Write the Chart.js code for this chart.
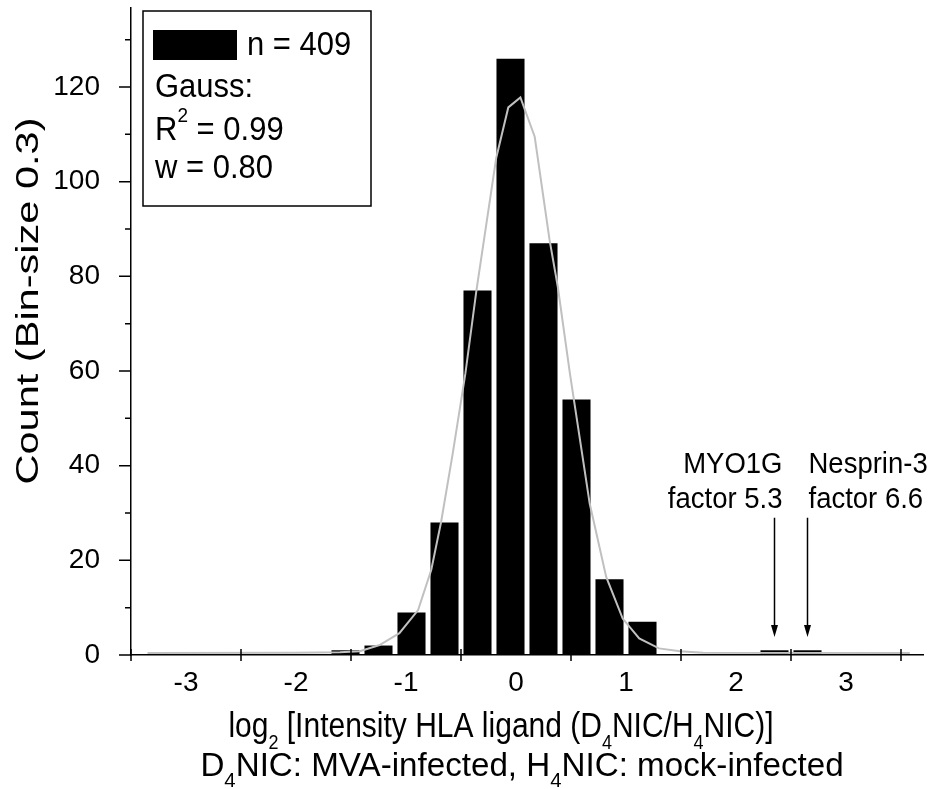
<!DOCTYPE html>
<html>
<head>
<meta charset="utf-8">
<script src="https://cdn.jsdelivr.net/npm/chart.js@4.4.1/dist/chart.umd.min.js"></script>
<style>
  html, body { margin: 0; padding: 0; background: #fff; }
</style>
</head>
<body>
<canvas id="histChart" width="936" height="789"></canvas>
<script>
// histogram bins (bin size 0.3), centre of each bin and its count
const binCenters = [-1.55, -1.25, -0.95, -0.65, -0.35, -0.05, 0.25, 0.55, 0.85, 1.15, 2.35, 2.65];
const counts = [1, 2, 9, 28, 77, 126, 87, 54, 16, 7, 1, 1];

// gauss fit curve
const gaussX = [-3.35, -2.0, -1.6, -1.42, -1.24, -1.06, -0.89, -0.77, -0.68, -0.575, -0.46, -0.36, -0.27, -0.18, -0.07, 0.04, 0.17, 0.305, 0.38, 0.49, 0.67, 0.82, 0.97, 1.12, 1.30, 1.49, 1.7, 3.58];
const gaussY = [0.4, 0.45, 0.6, 0.8, 2.1, 4.6, 9.5, 18, 28.2, 42.6, 59.5, 77, 91, 105, 115.7, 117.8, 109.5, 87.7, 77.8, 59.5, 32, 16.5, 7.7, 3.5, 1.4, 0.8, 0.5, 0.4];

// axes
const xLabels = [-3, -2, -1, 0, 1, 2, 3];
const xTickMarks = [-3.5, -2.5, -1.5, -0.5, 0.5, 1.5, 2.5, 3.5];
const yLabels = [0, 20, 40, 60, 80, 100, 120];
const yMinor = [10, 30, 50, 70, 90, 110, 130];

// marked ligands
const markedBins = [2.35, 2.65];
const markedNames = ["MYO1G", "Nesprin-3"];
const markedFactors = ["factor 5.3", "factor 6.6"];

const legendLines = ["n = 409", "Gauss:", "R2 = 0.99", "w = 0.80"];

const FONT = '"Liberation Sans", Arial, sans-serif';

// draws text made of [string, mode] parts, mode 0 normal, 1 subscript, 2 superscript
function richText(ctx, parts, x, y, size, align, sx, sy, rot) {
  ctx.save();
  ctx.translate(x, y);
  if (rot) ctx.rotate(rot);
  ctx.scale(sx, sy);
  const fontOf = (m) => (m ? Math.round(size * 0.6) : size) + "px " + FONT;
  let w = 0;
  parts.forEach(([t, m]) => {
    ctx.font = fontOf(m);
    w += ctx.measureText(t).width;
  });
  let cx = align === "center" ? -w / 2 : align === "right" ? -w : 0;
  ctx.fillStyle = "#000";
  ctx.textAlign = "left";
  ctx.textBaseline = "alphabetic";
  parts.forEach(([t, m]) => {
    ctx.font = fontOf(m);
    const dy = m === 1 ? size * 0.33 : m === 2 ? -size * 0.55 : 0;
    ctx.fillText(t, cx, dy);
    cx += ctx.measureText(t).width;
  });
  ctx.restore();
}

const decorations = {
  id: "decorations",
  afterDraw(chart) {
    const ctx = chart.ctx;
    const xs = chart.scales.x;
    const ys = chart.scales.y;
    const area = chart.chartArea;

    ctx.save();
    ctx.strokeStyle = "#000";
    ctx.lineWidth = 1.5;
    ctx.beginPath();
    // y ticks: long at labels, short between
    yLabels.forEach((v) => {
      const py = ys.getPixelForValue(v);
      ctx.moveTo(area.left - 12, py);
      ctx.lineTo(area.left, py);
    });
    yMinor.forEach((v) => {
      const py = ys.getPixelForValue(v);
      ctx.moveTo(area.left - 6, py);
      ctx.lineTo(area.left, py);
    });
    // x ticks cross the axis between the labels
    xTickMarks.forEach((v) => {
      const px = xs.getPixelForValue(v);
      ctx.moveTo(px, area.bottom - 6);
      ctx.lineTo(px, area.bottom + 6);
    });
    ctx.stroke();

    // legend box
    ctx.fillStyle = "#fff";
    ctx.fillRect(143, 11, 228, 195);
    ctx.strokeRect(143, 11, 228, 195);
    ctx.fillStyle = "#000";
    ctx.fillRect(153, 30, 84, 30);
    richText(ctx, [[legendLines[0], 0]], 247, 55, 31, "left", 1, 1.05);
    richText(ctx, [[legendLines[1], 0]], 155, 97, 31, "left", 1, 1.05);
    richText(ctx, [["R", 0], ["2", 2], [legendLines[2].slice(2), 0]], 155, 140, 31, "left", 1, 1.05);
    richText(ctx, [[legendLines[3], 0]], 155, 178, 31, "left", 1, 1.05);

    // arrows to the marked bins
    markedBins.forEach((b, i) => {
      const px = xs.getPixelForValue(b);
      const top = ys.getPixelForValue(29);
      const tip = ys.getPixelForValue(3.8);
      ctx.beginPath();
      ctx.moveTo(px, top);
      ctx.lineTo(px, tip - 10);
      ctx.lineWidth = 1.5;
      ctx.stroke();
      ctx.beginPath();
      ctx.moveTo(px - 3.5, tip - 12);
      ctx.lineTo(px + 3.5, tip - 12);
      ctx.lineTo(px, tip);
      ctx.closePath();
      ctx.fill();
      const align = i === 0 ? "right" : "left";
      const tx = i === 0 ? px + 8 : px + 1;
      richText(ctx, [[markedNames[i], 0]], tx, 473, 27.5, align, 1, 1.05);
      richText(ctx, [[markedFactors[i], 0]], tx, 508, 27.5, align, 1, 1.05);
    });

    // axis titles
    richText(ctx, [["Count (Bin-size 0.3)", 0]], 38, 301, 31, "center", 1.34, 1, -Math.PI / 2);
    richText(ctx, [["log", 0], ["2", 1], [" [Intensity HLA ligand (D", 0], ["4", 1], ["NIC/H", 0], ["4", 1], ["NIC)]", 0]],
      501, 737, 30, "center", 1, 1.17);
    richText(ctx, [["D", 0], ["4", 1], ["NIC: MVA-infected, H", 0], ["4", 1], ["NIC: mock-infected", 0]],
      522, 776, 31, "center", 1.07, 1.1);
    ctx.restore();
  }
};

const ctx = document.getElementById("histChart").getContext("2d");
const histChart = new Chart(ctx, {
  type: "bar",
  data: {
    datasets: [
      {
        type: "line",
        label: "Gauss",
        data: gaussX.map((x, i) => ({ x: x, y: gaussY[i] })),
        borderColor: "#c0c0c0",
        borderWidth: 2,
        pointRadius: 0,
        tension: 0,
        fill: false,
        order: 0
      },
      {
        label: "n = 409",
        data: binCenters.map((x, i) => ({ x: x, y: counts[i] })),
        backgroundColor: "#000",
        borderWidth: 0,
        barPercentage: 0.85,
        categoryPercentage: 1.0,
        order: 1
      }
    ]
  },
  options: {
    responsive: false,
    animation: false,
    layout: { padding: { top: 8, right: 13, left: 0, bottom: 0 } },
    plugins: { legend: { display: false }, tooltip: { enabled: false } },
    scales: {
      x: {
        type: "linear",
        offset: false,
        min: -3.5,
        max: 3.7,
        grid: { display: false, offset: false },
        border: { display: true, color: "#000", width: 1.5 },
        afterBuildTicks: (s) => {
          s.ticks = [...xTickMarks, ...xLabels].sort((a, b) => a - b).map((v) => ({ value: v }));
        },
        afterFit: (s) => {
          s.height = 134;
          s.paddingLeft = 0;
          s.paddingRight = 0;
        },
        ticks: {
          autoSkip: false,
          maxRotation: 0,
          padding: 3,
          color: "#000",
          font: { family: FONT, size: 28 },
          callback: (v) => (xLabels.includes(v) ? String(v) : "")
        }
      },
      y: {
        min: 0,
        max: 136.7,
        grid: { display: false },
        border: { display: true, color: "#000", width: 1.5 },
        afterBuildTicks: (s) => {
          s.ticks = [...yLabels, ...yMinor].sort((a, b) => a - b).map((v) => ({ value: v }));
        },
        afterFit: (s) => {
          s.width = 131;
          s.paddingTop = 0;
          s.paddingBottom = 0;
        },
        ticks: {
          autoSkip: false,
          padding: 23,
          color: "#000",
          font: { family: FONT, size: 28 },
          callback: (v) => (yLabels.includes(v) ? String(v) : "")
        }
      }
    }
  },
  plugins: [decorations]
});
</script>
</body>
</html>
